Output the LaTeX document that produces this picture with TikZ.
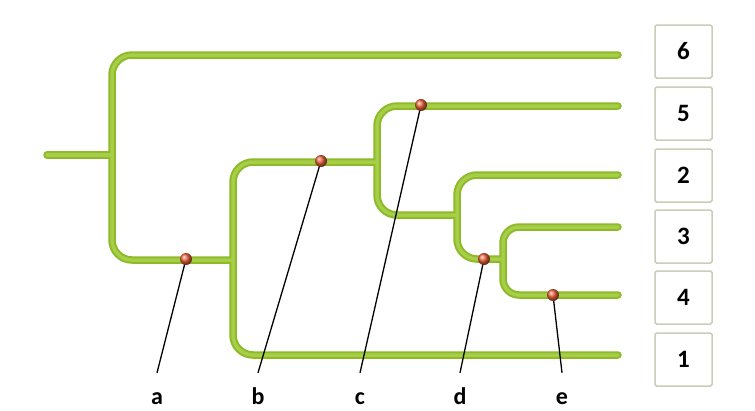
\documentclass[tikz,border=0pt]{standalone}
\usepackage{fontspec}
\setmainfont{Carlito}
\begin{document}
\begin{tikzpicture}[x=1pt,y=-1pt]
    \definecolor{treegreen}{RGB}{140,186,42}
    \definecolor{treelight}{RGB}{168,206,72}
    \definecolor{boxline}{RGB}{200,206,186}
    \definecolor{dotred}{RGB}{235,95,55}
\useasboundingbox (0,0) rectangle (755,410);
\tikzstyle{branch}=[line width=7.5pt,color=treegreen,line cap=round,rounded corners=20pt]
\tikzstyle{shine}=[line width=3.5pt,color=treelight,line cap=round,rounded corners=20pt]
% tree points
\coordinate (root) at (47,155);
\coordinate (n0) at (112,155);
\coordinate (nA) at (233,260);
\coordinate (nB) at (377,162);
\coordinate (nC) at (457,215);
\coordinate (nD) at (503,259);
\coordinate (t6) at (618,55);
\coordinate (t5) at (618,106);
\coordinate (t2) at (618,175);
\coordinate (t3) at (618,227);
\coordinate (t4) at (618,295);
\coordinate (t1) at (618,355);
\foreach \s in {branch,shine} {
  \draw [\s] (root) -- (n0);
  \draw [\s] (t6) -| (n0) |- (nA);
  \draw [\s] (nB) -| (nA) |- (t1);
  \draw [\s] (t5) -| (nB) |- (nC);
  \draw [\s] (t2) -| (nC) |- (nD);
  \draw [\s,rounded corners=16pt] (t3) -| (nD) |- (t4);
}
% taxa
\foreach \n/\y in {6/51.5,5/113.5,2/175.5,3/236.5,4/297.5,1/359.5} {
  \node [draw=boxline,line width=1.5pt,fill=white,rounded corners=1.5pt,minimum width=57pt,minimum height=53pt,font=\bfseries\fontsize{25}{28}\selectfont] (b\n) at (683.5,\y) {\n};
}
% characters
\tikzstyle{every node}=[inner sep=0pt,anchor=base,text height=31pt,text depth=0pt,font=\bfseries\fontsize{24}{27}\selectfont]
\foreach \l/\x/\px/\py in {a/157/186/259,b/258/321/161,c/360/421/105,d/460/484/259,e/562/553/295} {
  \coordinate (d\l) at (\px,\py);
  \node (l\l) at (\x,404) {\l};
  \draw [line width=1.3pt] (d\l) -- (l\l.north);
  \node [shape=circle,ball color=dotred,minimum size=12pt,text height=,anchor=center] at (d\l) {};
}
\end{tikzpicture}
\end{document}
